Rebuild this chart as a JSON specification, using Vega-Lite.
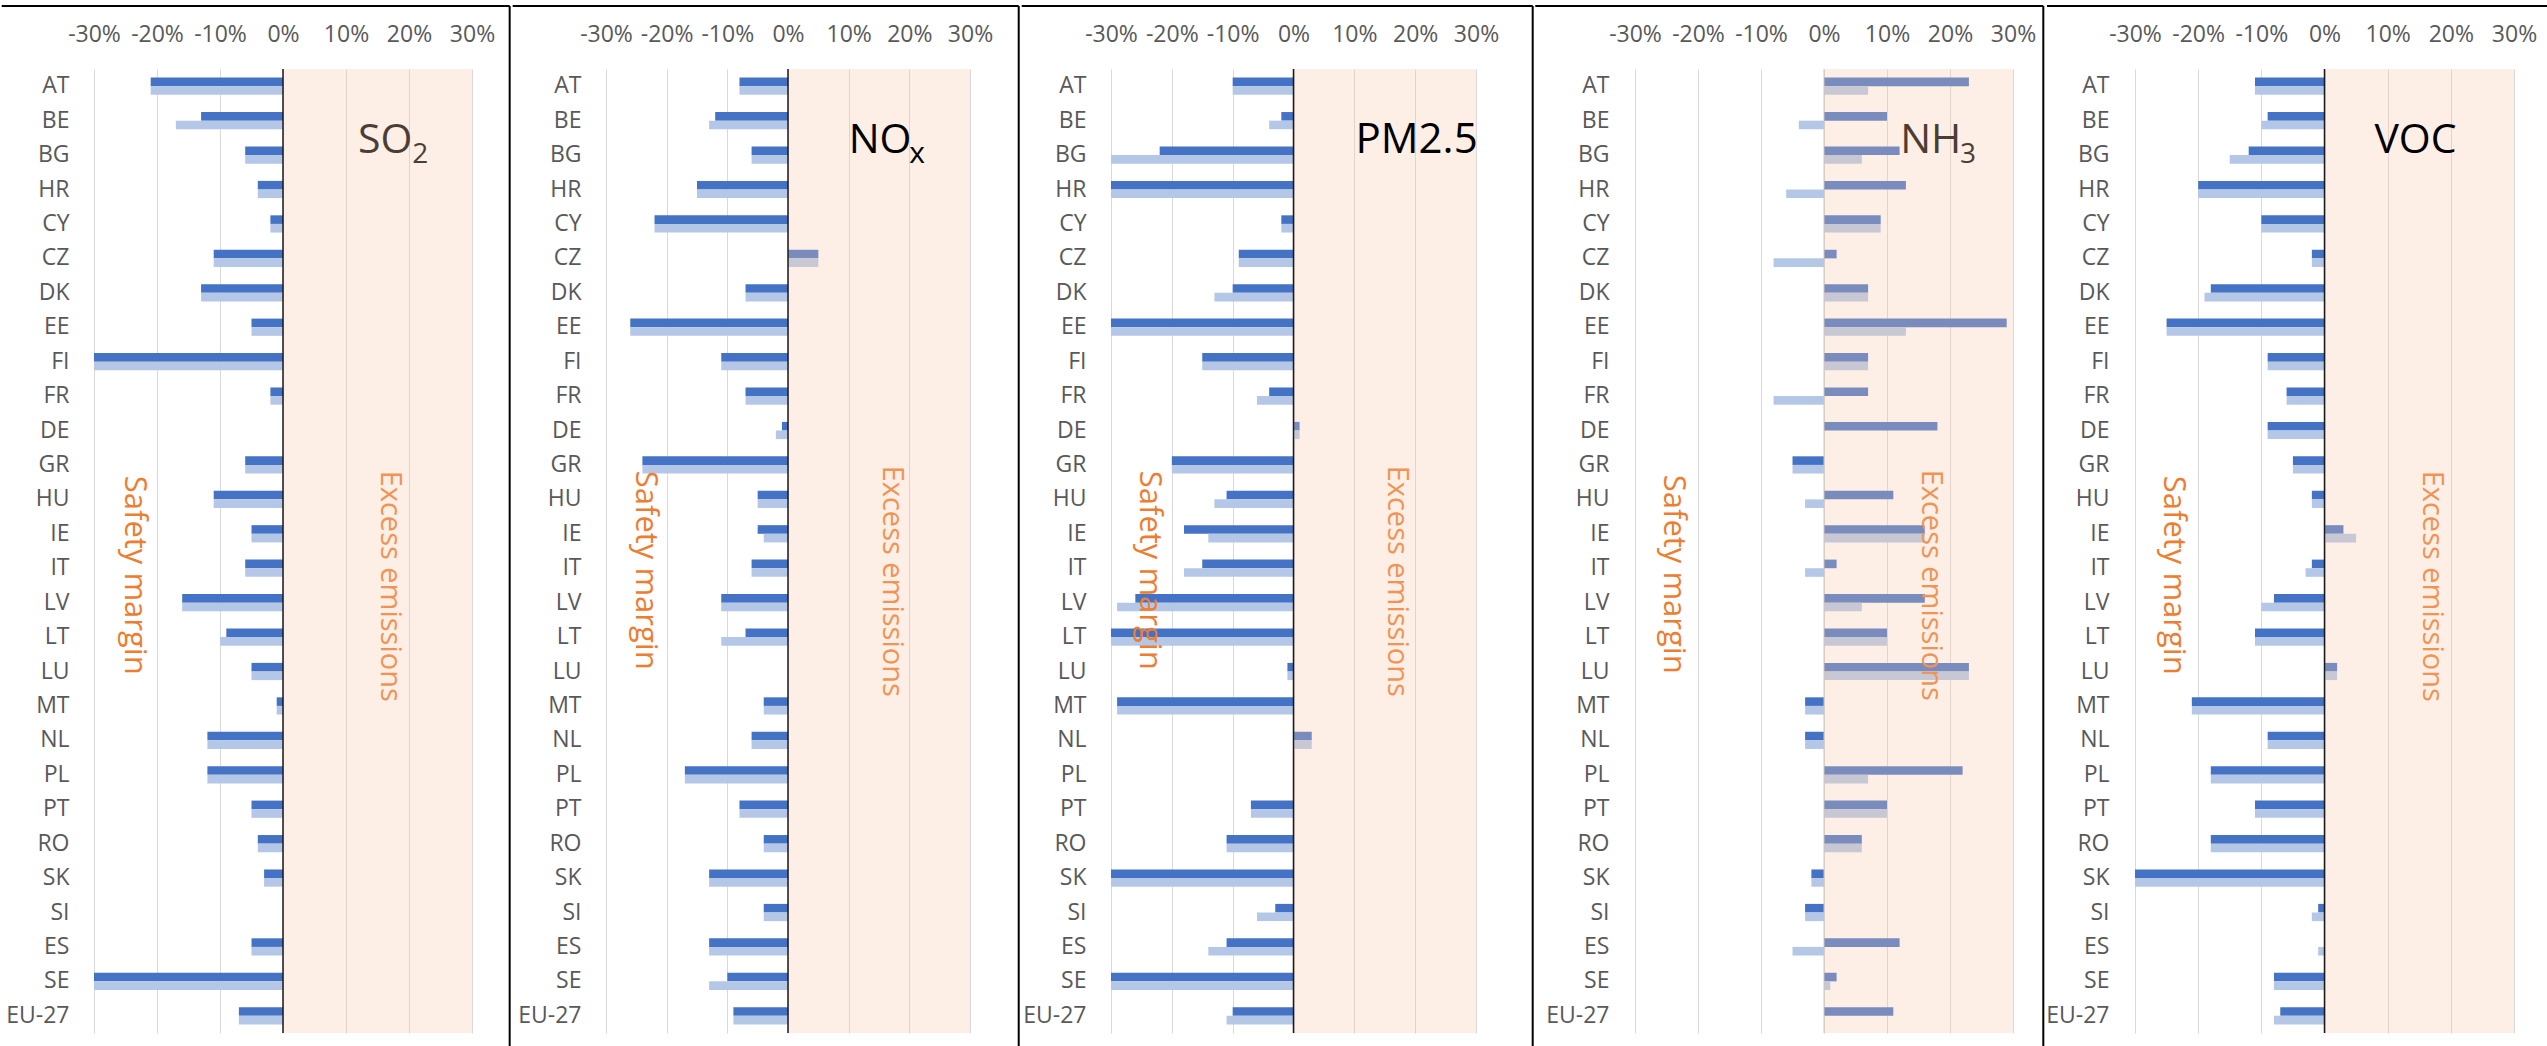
{
  "$schema": "https://vega.github.io/schema/vega-lite/v6.json",
  "padding": {"left": 0, "top": 5, "right": 0, "bottom": 0},
  "background": "white",
  "spacing": 0,
  "config": {
    "view": {"stroke": null},
    "font": "Open Sans",
    "axis": {"labelFont": "Open Sans", "labelFontSize": 23, "labelColor": "#595959", "domain": false, "ticks": false, "title": null},
    "axisX": {"grid": true, "gridColor": "#D9D9D9", "gridWidth": 1, "labelPadding": 23, "labelFlush": false},
    "axisY": {"grid": false, "labelPadding": 25}
  },
  "datasets": {
    "emissions": [
      {"pollutant": "SO2", "country": "AT", "Series 1": -21, "Series 2": -21},
      {"pollutant": "SO2", "country": "BE", "Series 1": -13, "Series 2": -17},
      {"pollutant": "SO2", "country": "BG", "Series 1": -6, "Series 2": -6},
      {"pollutant": "SO2", "country": "HR", "Series 1": -4, "Series 2": -4},
      {"pollutant": "SO2", "country": "CY", "Series 1": -2, "Series 2": -2},
      {"pollutant": "SO2", "country": "CZ", "Series 1": -11, "Series 2": -11},
      {"pollutant": "SO2", "country": "DK", "Series 1": -13, "Series 2": -13},
      {"pollutant": "SO2", "country": "EE", "Series 1": -5, "Series 2": -5},
      {"pollutant": "SO2", "country": "FI", "Series 1": -30, "Series 2": -30},
      {"pollutant": "SO2", "country": "FR", "Series 1": -2, "Series 2": -2},
      {"pollutant": "SO2", "country": "DE", "Series 1": 0, "Series 2": 0},
      {"pollutant": "SO2", "country": "GR", "Series 1": -6, "Series 2": -6},
      {"pollutant": "SO2", "country": "HU", "Series 1": -11, "Series 2": -11},
      {"pollutant": "SO2", "country": "IE", "Series 1": -5, "Series 2": -5},
      {"pollutant": "SO2", "country": "IT", "Series 1": -6, "Series 2": -6},
      {"pollutant": "SO2", "country": "LV", "Series 1": -16, "Series 2": -16},
      {"pollutant": "SO2", "country": "LT", "Series 1": -9, "Series 2": -10},
      {"pollutant": "SO2", "country": "LU", "Series 1": -5, "Series 2": -5},
      {"pollutant": "SO2", "country": "MT", "Series 1": -1, "Series 2": -1},
      {"pollutant": "SO2", "country": "NL", "Series 1": -12, "Series 2": -12},
      {"pollutant": "SO2", "country": "PL", "Series 1": -12, "Series 2": -12},
      {"pollutant": "SO2", "country": "PT", "Series 1": -5, "Series 2": -5},
      {"pollutant": "SO2", "country": "RO", "Series 1": -4, "Series 2": -4},
      {"pollutant": "SO2", "country": "SK", "Series 1": -3, "Series 2": -3},
      {"pollutant": "SO2", "country": "SI", "Series 1": 0, "Series 2": 0},
      {"pollutant": "SO2", "country": "ES", "Series 1": -5, "Series 2": -5},
      {"pollutant": "SO2", "country": "SE", "Series 1": -30, "Series 2": -30},
      {"pollutant": "SO2", "country": "EU-27", "Series 1": -7, "Series 2": -7},
      {"pollutant": "NOx", "country": "AT", "Series 1": -8, "Series 2": -8},
      {"pollutant": "NOx", "country": "BE", "Series 1": -12, "Series 2": -13},
      {"pollutant": "NOx", "country": "BG", "Series 1": -6, "Series 2": -6},
      {"pollutant": "NOx", "country": "HR", "Series 1": -15, "Series 2": -15},
      {"pollutant": "NOx", "country": "CY", "Series 1": -22, "Series 2": -22},
      {"pollutant": "NOx", "country": "CZ", "Series 1": 5, "Series 2": 5},
      {"pollutant": "NOx", "country": "DK", "Series 1": -7, "Series 2": -7},
      {"pollutant": "NOx", "country": "EE", "Series 1": -26, "Series 2": -26},
      {"pollutant": "NOx", "country": "FI", "Series 1": -11, "Series 2": -11},
      {"pollutant": "NOx", "country": "FR", "Series 1": -7, "Series 2": -7},
      {"pollutant": "NOx", "country": "DE", "Series 1": -1, "Series 2": -2},
      {"pollutant": "NOx", "country": "GR", "Series 1": -24, "Series 2": -24},
      {"pollutant": "NOx", "country": "HU", "Series 1": -5, "Series 2": -5},
      {"pollutant": "NOx", "country": "IE", "Series 1": -5, "Series 2": -4},
      {"pollutant": "NOx", "country": "IT", "Series 1": -6, "Series 2": -6},
      {"pollutant": "NOx", "country": "LV", "Series 1": -11, "Series 2": -11},
      {"pollutant": "NOx", "country": "LT", "Series 1": -7, "Series 2": -11},
      {"pollutant": "NOx", "country": "LU", "Series 1": 0, "Series 2": 0},
      {"pollutant": "NOx", "country": "MT", "Series 1": -4, "Series 2": -4},
      {"pollutant": "NOx", "country": "NL", "Series 1": -6, "Series 2": -6},
      {"pollutant": "NOx", "country": "PL", "Series 1": -17, "Series 2": -17},
      {"pollutant": "NOx", "country": "PT", "Series 1": -8, "Series 2": -8},
      {"pollutant": "NOx", "country": "RO", "Series 1": -4, "Series 2": -4},
      {"pollutant": "NOx", "country": "SK", "Series 1": -13, "Series 2": -13},
      {"pollutant": "NOx", "country": "SI", "Series 1": -4, "Series 2": -4},
      {"pollutant": "NOx", "country": "ES", "Series 1": -13, "Series 2": -13},
      {"pollutant": "NOx", "country": "SE", "Series 1": -10, "Series 2": -13},
      {"pollutant": "NOx", "country": "EU-27", "Series 1": -9, "Series 2": -9},
      {"pollutant": "PM2.5", "country": "AT", "Series 1": -10, "Series 2": -10},
      {"pollutant": "PM2.5", "country": "BE", "Series 1": -2, "Series 2": -4},
      {"pollutant": "PM2.5", "country": "BG", "Series 1": -22, "Series 2": -30},
      {"pollutant": "PM2.5", "country": "HR", "Series 1": -30, "Series 2": -30},
      {"pollutant": "PM2.5", "country": "CY", "Series 1": -2, "Series 2": -2},
      {"pollutant": "PM2.5", "country": "CZ", "Series 1": -9, "Series 2": -9},
      {"pollutant": "PM2.5", "country": "DK", "Series 1": -10, "Series 2": -13},
      {"pollutant": "PM2.5", "country": "EE", "Series 1": -30, "Series 2": -30},
      {"pollutant": "PM2.5", "country": "FI", "Series 1": -15, "Series 2": -15},
      {"pollutant": "PM2.5", "country": "FR", "Series 1": -4, "Series 2": -6},
      {"pollutant": "PM2.5", "country": "DE", "Series 1": 1, "Series 2": 1},
      {"pollutant": "PM2.5", "country": "GR", "Series 1": -20, "Series 2": -20},
      {"pollutant": "PM2.5", "country": "HU", "Series 1": -11, "Series 2": -13},
      {"pollutant": "PM2.5", "country": "IE", "Series 1": -18, "Series 2": -14},
      {"pollutant": "PM2.5", "country": "IT", "Series 1": -15, "Series 2": -18},
      {"pollutant": "PM2.5", "country": "LV", "Series 1": -26, "Series 2": -29},
      {"pollutant": "PM2.5", "country": "LT", "Series 1": -30, "Series 2": -30},
      {"pollutant": "PM2.5", "country": "LU", "Series 1": -1, "Series 2": -1},
      {"pollutant": "PM2.5", "country": "MT", "Series 1": -29, "Series 2": -29},
      {"pollutant": "PM2.5", "country": "NL", "Series 1": 3, "Series 2": 3},
      {"pollutant": "PM2.5", "country": "PL", "Series 1": 0, "Series 2": 0},
      {"pollutant": "PM2.5", "country": "PT", "Series 1": -7, "Series 2": -7},
      {"pollutant": "PM2.5", "country": "RO", "Series 1": -11, "Series 2": -11},
      {"pollutant": "PM2.5", "country": "SK", "Series 1": -30, "Series 2": -30},
      {"pollutant": "PM2.5", "country": "SI", "Series 1": -3, "Series 2": -6},
      {"pollutant": "PM2.5", "country": "ES", "Series 1": -11, "Series 2": -14},
      {"pollutant": "PM2.5", "country": "SE", "Series 1": -30, "Series 2": -30},
      {"pollutant": "PM2.5", "country": "EU-27", "Series 1": -10, "Series 2": -11},
      {"pollutant": "NH3", "country": "AT", "Series 1": 23, "Series 2": 7},
      {"pollutant": "NH3", "country": "BE", "Series 1": 10, "Series 2": -4},
      {"pollutant": "NH3", "country": "BG", "Series 1": 12, "Series 2": 6},
      {"pollutant": "NH3", "country": "HR", "Series 1": 13, "Series 2": -6},
      {"pollutant": "NH3", "country": "CY", "Series 1": 9, "Series 2": 9},
      {"pollutant": "NH3", "country": "CZ", "Series 1": 2, "Series 2": -8},
      {"pollutant": "NH3", "country": "DK", "Series 1": 7, "Series 2": 7},
      {"pollutant": "NH3", "country": "EE", "Series 1": 29, "Series 2": 13},
      {"pollutant": "NH3", "country": "FI", "Series 1": 7, "Series 2": 7},
      {"pollutant": "NH3", "country": "FR", "Series 1": 7, "Series 2": -8},
      {"pollutant": "NH3", "country": "DE", "Series 1": 18, "Series 2": 0},
      {"pollutant": "NH3", "country": "GR", "Series 1": -5, "Series 2": -5},
      {"pollutant": "NH3", "country": "HU", "Series 1": 11, "Series 2": -3},
      {"pollutant": "NH3", "country": "IE", "Series 1": 16, "Series 2": 16},
      {"pollutant": "NH3", "country": "IT", "Series 1": 2, "Series 2": -3},
      {"pollutant": "NH3", "country": "LV", "Series 1": 16, "Series 2": 6},
      {"pollutant": "NH3", "country": "LT", "Series 1": 10, "Series 2": 10},
      {"pollutant": "NH3", "country": "LU", "Series 1": 23, "Series 2": 23},
      {"pollutant": "NH3", "country": "MT", "Series 1": -3, "Series 2": -3},
      {"pollutant": "NH3", "country": "NL", "Series 1": -3, "Series 2": -3},
      {"pollutant": "NH3", "country": "PL", "Series 1": 22, "Series 2": 7},
      {"pollutant": "NH3", "country": "PT", "Series 1": 10, "Series 2": 10},
      {"pollutant": "NH3", "country": "RO", "Series 1": 6, "Series 2": 6},
      {"pollutant": "NH3", "country": "SK", "Series 1": -2, "Series 2": -2},
      {"pollutant": "NH3", "country": "SI", "Series 1": -3, "Series 2": -3},
      {"pollutant": "NH3", "country": "ES", "Series 1": 12, "Series 2": -5},
      {"pollutant": "NH3", "country": "SE", "Series 1": 2, "Series 2": 1},
      {"pollutant": "NH3", "country": "EU-27", "Series 1": 11, "Series 2": 0},
      {"pollutant": "VOC", "country": "AT", "Series 1": -11, "Series 2": -11},
      {"pollutant": "VOC", "country": "BE", "Series 1": -9, "Series 2": -10},
      {"pollutant": "VOC", "country": "BG", "Series 1": -12, "Series 2": -15},
      {"pollutant": "VOC", "country": "HR", "Series 1": -20, "Series 2": -20},
      {"pollutant": "VOC", "country": "CY", "Series 1": -10, "Series 2": -10},
      {"pollutant": "VOC", "country": "CZ", "Series 1": -2, "Series 2": -2},
      {"pollutant": "VOC", "country": "DK", "Series 1": -18, "Series 2": -19},
      {"pollutant": "VOC", "country": "EE", "Series 1": -25, "Series 2": -25},
      {"pollutant": "VOC", "country": "FI", "Series 1": -9, "Series 2": -9},
      {"pollutant": "VOC", "country": "FR", "Series 1": -6, "Series 2": -6},
      {"pollutant": "VOC", "country": "DE", "Series 1": -9, "Series 2": -9},
      {"pollutant": "VOC", "country": "GR", "Series 1": -5, "Series 2": -5},
      {"pollutant": "VOC", "country": "HU", "Series 1": -2, "Series 2": -2},
      {"pollutant": "VOC", "country": "IE", "Series 1": 3, "Series 2": 5},
      {"pollutant": "VOC", "country": "IT", "Series 1": -2, "Series 2": -3},
      {"pollutant": "VOC", "country": "LV", "Series 1": -8, "Series 2": -10},
      {"pollutant": "VOC", "country": "LT", "Series 1": -11, "Series 2": -11},
      {"pollutant": "VOC", "country": "LU", "Series 1": 2, "Series 2": 2},
      {"pollutant": "VOC", "country": "MT", "Series 1": -21, "Series 2": -21},
      {"pollutant": "VOC", "country": "NL", "Series 1": -9, "Series 2": -9},
      {"pollutant": "VOC", "country": "PL", "Series 1": -18, "Series 2": -18},
      {"pollutant": "VOC", "country": "PT", "Series 1": -11, "Series 2": -11},
      {"pollutant": "VOC", "country": "RO", "Series 1": -18, "Series 2": -18},
      {"pollutant": "VOC", "country": "SK", "Series 1": -30, "Series 2": -30},
      {"pollutant": "VOC", "country": "SI", "Series 1": -1, "Series 2": -2},
      {"pollutant": "VOC", "country": "ES", "Series 1": 0, "Series 2": -1},
      {"pollutant": "VOC", "country": "SE", "Series 1": -8, "Series 2": -8},
      {"pollutant": "VOC", "country": "EU-27", "Series 1": -7, "Series 2": -8}
    ]
  },
  "hconcat": [
    {
      "width": 378, "height": 964,
      "resolve": {"scale": {"y": "independent"}},
      "layer": [
        {
          "layer": [
            {
              "data": {"name": "emissions"},
              "transform": [{"filter": "datum.pollutant === 'SO2'"}, {"fold": ["Series 1", "Series 2"], "as": ["series", "value"]}],
              "mark": {"type": "bar"},
              "encoding": {
                "y": {"field": "country", "type": "nominal", "scale": {"domain": ["AT","BE","BG","HR","CY","CZ","DK","EE","FI","FR","DE","GR","HU","IE","IT","LV","LT","LU","MT","NL","PL","PT","RO","SK","SI","ES","SE","EU-27"], "paddingInner": 0.5, "paddingOuter": 0.25}, "axis": {"orient": "left", "title": null}},
                "yOffset": {"field": "series", "type": "nominal", "scale": {"domain": ["Series 1", "Series 2"]}},
                "x": {"field": "value", "type": "quantitative", "scale": {"domain": [-30, 30], "nice": false, "zero": false}, "axis": {"orient": "top", "values": [-30, -20, -10, 0, 10, 20, 30], "labelExpr": "datum.value + '%'", "title": null}},
                "color": {"field": "series", "type": "nominal", "scale": {"domain": ["Series 1", "Series 2"], "range": ["#4472C4", "#B4C7E7"]}, "legend": null}
              }
            },
            {"data": {"values": [{}]}, "mark": {"type": "text", "text": "Safety margin", "angle": 90, "align": "center", "baseline": "middle", "fontSize": 31, "color": "#ED7D31", "dx": 7}, "encoding": {"x": {"datum": -23.7, "scale": {"domain": [-30, 30]}}, "y": {"datum": "IT", "type": "nominal"}}},
            {"data": {"values": [{}]}, "mark": {"type": "text", "text": "Excess emissions", "angle": 90, "align": "center", "baseline": "middle", "fontSize": 29, "color": "#ED7D31", "dx": 18}, "encoding": {"x": {"datum": 17, "scale": {"domain": [-30, 30]}}, "y": {"datum": "IT", "type": "nominal"}}},
            {"data": {"values": [{}]}, "mark": {"type": "text", "text": "SO", "align": "left", "baseline": "alphabetic", "fontSize": 41, "color": "#000000", "dy": -2}, "encoding": {"x": {"datum": 11.9, "scale": {"domain": [-30, 30]}}, "y": {"datum": "BG", "type": "nominal"}}},
            {"data": {"values": [{}]}, "mark": {"type": "text", "text": "2", "align": "left", "baseline": "alphabetic", "fontSize": 28, "color": "#000000", "dy": 8}, "encoding": {"x": {"datum": 20.5, "scale": {"domain": [-30, 30]}}, "y": {"datum": "BG", "type": "nominal"}}},
            {"data": {"values": [{}]}, "mark": {"type": "rect", "color": "#F8CBAD", "opacity": 0.3}, "encoding": {"x": {"datum": 0, "scale": {"domain": [-30, 30]}}, "x2": {"datum": 30}}},
            {"data": {"values": [{}]}, "mark": {"type": "rule", "color": "#1A1A1A", "strokeWidth": 1.5}, "encoding": {"x": {"datum": 0, "scale": {"domain": [-30, 30]}}}}
          ]
        },
        {
          "data": {"values": [{}]},
          "layer": [
            {"mark": {"type": "rule", "color": "#000000", "strokeWidth": 2}, "encoding": {"x": {"datum": -44.65, "scale": {"domain": [-30, 30]}}, "x2": {"datum": 35.98}, "y": {"datum": 1027, "type": "quantitative", "scale": {"domain": [0, 964], "nice": false, "zero": false}, "axis": null}}},
            {"mark": {"type": "rule", "color": "#000000", "strokeWidth": 2}, "encoding": {"x": {"datum": 35.98, "scale": {"domain": [-30, 30]}}, "y": {"datum": 1027, "type": "quantitative", "scale": {"domain": [0, 964], "nice": false, "zero": false}, "axis": null}, "y2": {"datum": -13}}}
          ]
        }
      ]
    },
    {
      "width": 364, "height": 964,
      "resolve": {"scale": {"y": "independent"}},
      "layer": [
        {
          "layer": [
            {
              "data": {"name": "emissions"},
              "transform": [{"filter": "datum.pollutant === 'NOx'"}, {"fold": ["Series 1", "Series 2"], "as": ["series", "value"]}],
              "mark": {"type": "bar"},
              "encoding": {
                "y": {"field": "country", "type": "nominal", "scale": {"domain": ["AT","BE","BG","HR","CY","CZ","DK","EE","FI","FR","DE","GR","HU","IE","IT","LV","LT","LU","MT","NL","PL","PT","RO","SK","SI","ES","SE","EU-27"], "paddingInner": 0.5, "paddingOuter": 0.25}, "axis": {"orient": "left", "title": null}},
                "yOffset": {"field": "series", "type": "nominal", "scale": {"domain": ["Series 1", "Series 2"]}},
                "x": {"field": "value", "type": "quantitative", "scale": {"domain": [-30, 30], "nice": false, "zero": false}, "axis": {"orient": "top", "values": [-30, -20, -10, 0, 10, 20, 30], "labelExpr": "datum.value + '%'", "title": null}},
                "color": {"field": "series", "type": "nominal", "scale": {"domain": ["Series 1", "Series 2"], "range": ["#4472C4", "#B4C7E7"]}, "legend": null}
              }
            },
            {"data": {"values": [{}]}, "mark": {"type": "text", "text": "Safety margin", "angle": 90, "align": "center", "baseline": "middle", "fontSize": 31, "color": "#ED7D31", "dx": 2}, "encoding": {"x": {"datum": -23.6, "scale": {"domain": [-30, 30]}}, "y": {"datum": "IT", "type": "nominal"}}},
            {"data": {"values": [{}]}, "mark": {"type": "text", "text": "Excess emissions", "angle": 90, "align": "center", "baseline": "middle", "fontSize": 29, "color": "#ED7D31", "dx": 13}, "encoding": {"x": {"datum": 17.1, "scale": {"domain": [-30, 30]}}, "y": {"datum": "IT", "type": "nominal"}}},
            {"data": {"values": [{}]}, "mark": {"type": "rect", "color": "#F8CBAD", "opacity": 0.3}, "encoding": {"x": {"datum": 0, "scale": {"domain": [-30, 30]}}, "x2": {"datum": 30}}},
            {"data": {"values": [{}]}, "mark": {"type": "rule", "color": "#1A1A1A", "strokeWidth": 1.5}, "encoding": {"x": {"datum": 0, "scale": {"domain": [-30, 30]}}}},
            {"data": {"values": [{}]}, "mark": {"type": "text", "text": "NO", "align": "left", "baseline": "alphabetic", "fontSize": 41, "color": "#000000", "dy": -2}, "encoding": {"x": {"datum": 10.0, "scale": {"domain": [-30, 30]}}, "y": {"datum": "BG", "type": "nominal"}}},
            {"data": {"values": [{}]}, "mark": {"type": "text", "text": "x", "align": "left", "baseline": "alphabetic", "fontSize": 30, "color": "#000000", "dy": 8}, "encoding": {"x": {"datum": 20.0, "scale": {"domain": [-30, 30]}}, "y": {"datum": "BG", "type": "nominal"}}}
          ]
        },
        {
          "data": {"values": [{}]},
          "layer": [
            {"mark": {"type": "rule", "color": "#000000", "strokeWidth": 2}, "encoding": {"x": {"datum": -45.38, "scale": {"domain": [-30, 30]}}, "x2": {"datum": 38.03}, "y": {"datum": 1027, "type": "quantitative", "scale": {"domain": [0, 964], "nice": false, "zero": false}, "axis": null}}},
            {"mark": {"type": "rule", "color": "#000000", "strokeWidth": 2}, "encoding": {"x": {"datum": 38.03, "scale": {"domain": [-30, 30]}}, "y": {"datum": 1027, "type": "quantitative", "scale": {"domain": [0, 964], "nice": false, "zero": false}, "axis": null}, "y2": {"datum": -13}}}
          ]
        }
      ]
    },
    {
      "width": 365, "height": 964,
      "resolve": {"scale": {"y": "independent"}},
      "layer": [
        {
          "layer": [
            {
              "data": {"name": "emissions"},
              "transform": [{"filter": "datum.pollutant === 'PM2.5'"}, {"fold": ["Series 1", "Series 2"], "as": ["series", "value"]}],
              "mark": {"type": "bar"},
              "encoding": {
                "y": {"field": "country", "type": "nominal", "scale": {"domain": ["AT","BE","BG","HR","CY","CZ","DK","EE","FI","FR","DE","GR","HU","IE","IT","LV","LT","LU","MT","NL","PL","PT","RO","SK","SI","ES","SE","EU-27"], "paddingInner": 0.5, "paddingOuter": 0.25}, "axis": {"orient": "left", "title": null}},
                "yOffset": {"field": "series", "type": "nominal", "scale": {"domain": ["Series 1", "Series 2"]}},
                "x": {"field": "value", "type": "quantitative", "scale": {"domain": [-30, 30], "nice": false, "zero": false}, "axis": {"orient": "top", "values": [-30, -20, -10, 0, 10, 20, 30], "labelExpr": "datum.value + '%'", "title": null}},
                "color": {"field": "series", "type": "nominal", "scale": {"domain": ["Series 1", "Series 2"], "range": ["#4472C4", "#B4C7E7"]}, "legend": null}
              }
            },
            {"data": {"values": [{}]}, "mark": {"type": "text", "text": "Safety margin", "angle": 90, "align": "center", "baseline": "middle", "fontSize": 31, "color": "#ED7D31", "dx": 2}, "encoding": {"x": {"datum": -23.8, "scale": {"domain": [-30, 30]}}, "y": {"datum": "IT", "type": "nominal"}}},
            {"data": {"values": [{}]}, "mark": {"type": "text", "text": "Excess emissions", "angle": 90, "align": "center", "baseline": "middle", "fontSize": 29, "color": "#ED7D31", "dx": 13}, "encoding": {"x": {"datum": 17, "scale": {"domain": [-30, 30]}}, "y": {"datum": "IT", "type": "nominal"}}},
            {"data": {"values": [{}]}, "mark": {"type": "rect", "color": "#F8CBAD", "opacity": 0.3}, "encoding": {"x": {"datum": 0, "scale": {"domain": [-30, 30]}}, "x2": {"datum": 30}}},
            {"data": {"values": [{}]}, "mark": {"type": "rule", "color": "#1A1A1A", "strokeWidth": 1.5}, "encoding": {"x": {"datum": 0, "scale": {"domain": [-30, 30]}}}},
            {"data": {"values": [{}]}, "mark": {"type": "text", "text": "PM2.5", "align": "left", "baseline": "alphabetic", "fontSize": 42, "color": "#000000", "dy": -2}, "encoding": {"x": {"datum": 10.2, "scale": {"domain": [-30, 30]}}, "y": {"datum": "BG", "type": "nominal"}}}
          ]
        },
        {
          "data": {"values": [{}]},
          "layer": [
            {"mark": {"type": "rule", "color": "#000000", "strokeWidth": 2}, "encoding": {"x": {"datum": -44.68, "scale": {"domain": [-30, 30]}}, "x2": {"datum": 39.32}, "y": {"datum": 1027, "type": "quantitative", "scale": {"domain": [0, 964], "nice": false, "zero": false}, "axis": null}}},
            {"mark": {"type": "rule", "color": "#000000", "strokeWidth": 2}, "encoding": {"x": {"datum": 39.32, "scale": {"domain": [-30, 30]}}, "y": {"datum": 1027, "type": "quantitative", "scale": {"domain": [0, 964], "nice": false, "zero": false}, "axis": null}, "y2": {"datum": -13}}}
          ]
        }
      ]
    },
    {
      "width": 378, "height": 964,
      "resolve": {"scale": {"y": "independent"}},
      "layer": [
        {
          "layer": [
            {
              "data": {"name": "emissions"},
              "transform": [{"filter": "datum.pollutant === 'NH3'"}, {"fold": ["Series 1", "Series 2"], "as": ["series", "value"]}],
              "mark": {"type": "bar"},
              "encoding": {
                "y": {"field": "country", "type": "nominal", "scale": {"domain": ["AT","BE","BG","HR","CY","CZ","DK","EE","FI","FR","DE","GR","HU","IE","IT","LV","LT","LU","MT","NL","PL","PT","RO","SK","SI","ES","SE","EU-27"], "paddingInner": 0.5, "paddingOuter": 0.25}, "axis": {"orient": "left", "title": null, "labelPadding": 26}},
                "yOffset": {"field": "series", "type": "nominal", "scale": {"domain": ["Series 1", "Series 2"]}},
                "x": {"field": "value", "type": "quantitative", "scale": {"domain": [-30, 30], "nice": false, "zero": false}, "axis": {"orient": "top", "values": [-30, -20, -10, 0, 10, 20, 30], "labelExpr": "datum.value + '%'", "title": null}},
                "color": {"field": "series", "type": "nominal", "scale": {"domain": ["Series 1", "Series 2"], "range": ["#4472C4", "#B4C7E7"]}, "legend": null}
              }
            },
            {"data": {"values": [{}]}, "mark": {"type": "text", "text": "Safety margin", "angle": 90, "align": "center", "baseline": "middle", "fontSize": 31, "color": "#ED7D31", "dx": 6}, "encoding": {"x": {"datum": -24, "scale": {"domain": [-30, 30]}}, "y": {"datum": "IT", "type": "nominal"}}},
            {"data": {"values": [{}]}, "mark": {"type": "text", "text": "Excess emissions", "angle": 90, "align": "center", "baseline": "middle", "fontSize": 29, "color": "#ED7D31", "dx": 17}, "encoding": {"x": {"datum": 17, "scale": {"domain": [-30, 30]}}, "y": {"datum": "IT", "type": "nominal"}}},
            {"data": {"values": [{}]}, "mark": {"type": "text", "text": "NH", "align": "left", "baseline": "alphabetic", "fontSize": 41, "color": "#000000", "dy": -2}, "encoding": {"x": {"datum": 12.1, "scale": {"domain": [-30, 30]}}, "y": {"datum": "BG", "type": "nominal"}}},
            {"data": {"values": [{}]}, "mark": {"type": "text", "text": "3", "align": "left", "baseline": "alphabetic", "fontSize": 28, "color": "#000000", "dy": 8}, "encoding": {"x": {"datum": 21.6, "scale": {"domain": [-30, 30]}}, "y": {"datum": "BG", "type": "nominal"}}},
            {"data": {"values": [{}]}, "mark": {"type": "rect", "color": "#F8CBAD", "opacity": 0.3}, "encoding": {"x": {"datum": 0, "scale": {"domain": [-30, 30]}}, "x2": {"datum": 30}}},
            {"data": {"values": [{}]}, "mark": {"type": "rule", "color": "#D0C4BC", "strokeWidth": 1}, "encoding": {"x": {"datum": 0, "scale": {"domain": [-30, 30]}}}}
          ]
        },
        {
          "data": {"values": [{}]},
          "layer": [
            {"mark": {"type": "rule", "color": "#000000", "strokeWidth": 2}, "encoding": {"x": {"datum": -45.83, "scale": {"domain": [-30, 30]}}, "x2": {"datum": 34.81}, "y": {"datum": 1027, "type": "quantitative", "scale": {"domain": [0, 964], "nice": false, "zero": false}, "axis": null}}},
            {"mark": {"type": "rule", "color": "#000000", "strokeWidth": 2}, "encoding": {"x": {"datum": 34.81, "scale": {"domain": [-30, 30]}}, "y": {"datum": 1027, "type": "quantitative", "scale": {"domain": [0, 964], "nice": false, "zero": false}, "axis": null}, "y2": {"datum": -13}}}
          ]
        }
      ]
    },
    {
      "width": 379, "height": 964,
      "resolve": {"scale": {"y": "independent"}},
      "layer": [
        {
          "layer": [
            {
              "data": {"name": "emissions"},
              "transform": [{"filter": "datum.pollutant === 'VOC'"}, {"fold": ["Series 1", "Series 2"], "as": ["series", "value"]}],
              "mark": {"type": "bar"},
              "encoding": {
                "y": {"field": "country", "type": "nominal", "scale": {"domain": ["AT","BE","BG","HR","CY","CZ","DK","EE","FI","FR","DE","GR","HU","IE","IT","LV","LT","LU","MT","NL","PL","PT","RO","SK","SI","ES","SE","EU-27"], "paddingInner": 0.5, "paddingOuter": 0.25}, "axis": {"orient": "left", "title": null, "labelPadding": 26}},
                "yOffset": {"field": "series", "type": "nominal", "scale": {"domain": ["Series 1", "Series 2"]}},
                "x": {"field": "value", "type": "quantitative", "scale": {"domain": [-30, 30], "nice": false, "zero": false}, "axis": {"orient": "top", "values": [-30, -20, -10, 0, 10, 20, 30], "labelExpr": "datum.value + '%'", "title": null}},
                "color": {"field": "series", "type": "nominal", "scale": {"domain": ["Series 1", "Series 2"], "range": ["#4472C4", "#B4C7E7"]}, "legend": null}
              }
            },
            {"data": {"values": [{}]}, "mark": {"type": "text", "text": "Safety margin", "angle": 90, "align": "center", "baseline": "middle", "fontSize": 31, "color": "#ED7D31", "dx": 7}, "encoding": {"x": {"datum": -24, "scale": {"domain": [-30, 30]}}, "y": {"datum": "IT", "type": "nominal"}}},
            {"data": {"values": [{}]}, "mark": {"type": "text", "text": "Excess emissions", "angle": 90, "align": "center", "baseline": "middle", "fontSize": 29, "color": "#ED7D31", "dx": 18}, "encoding": {"x": {"datum": 17, "scale": {"domain": [-30, 30]}}, "y": {"datum": "IT", "type": "nominal"}}},
            {"data": {"values": [{}]}, "mark": {"type": "rect", "color": "#F8CBAD", "opacity": 0.3}, "encoding": {"x": {"datum": 0, "scale": {"domain": [-30, 30]}}, "x2": {"datum": 30}}},
            {"data": {"values": [{}]}, "mark": {"type": "rule", "color": "#1A1A1A", "strokeWidth": 1.5}, "encoding": {"x": {"datum": 0, "scale": {"domain": [-30, 30]}}}},
            {"data": {"values": [{}]}, "mark": {"type": "text", "text": "VOC", "align": "left", "baseline": "alphabetic", "fontSize": 41, "color": "#000000", "dy": -2}, "encoding": {"x": {"datum": 7.9, "scale": {"domain": [-30, 30]}}, "y": {"datum": "BG", "type": "nominal"}}}
          ]
        },
        {
          "data": {"values": [{}]},
          "layer": [
            {"mark": {"type": "rule", "color": "#000000", "strokeWidth": 2}, "encoding": {"x": {"datum": -43.93, "scale": {"domain": [-30, 30]}}, "x2": {"datum": 35.86}, "y": {"datum": 1027, "type": "quantitative", "scale": {"domain": [0, 964], "nice": false, "zero": false}, "axis": null}}}
          ]
        }
      ]
    }
  ]
}
